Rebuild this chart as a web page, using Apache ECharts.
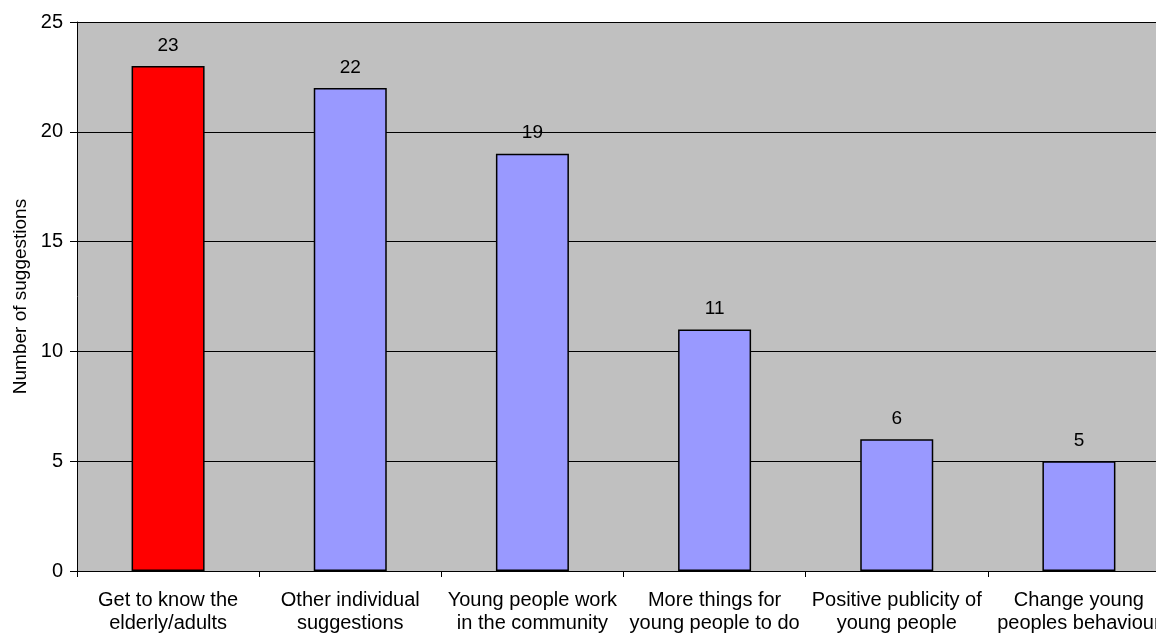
<!DOCTYPE html>
<html>
<head>
<meta charset="utf-8">
<script src="https://cdn.jsdelivr.net/npm/echarts@6/dist/echarts.min.js"></script>
<style>
  html, body { margin: 0; padding: 0; background: #fff; }
  #main { width: 1156px; height: 634px; }
</style>
</head>
<body>
<div id="main"></div>
<script>
// 分类与数值
const categories = [
  'Get to know the\nelderly/adults',
  'Other individual\nsuggestions',
  'Young people work\nin the community',
  'More things for\nyoung people to do',
  'Positive publicity of\nyoung people',
  'Change young\npeoples behaviour'
];
const counts = [23, 22, 19, 11, 6, 5];
const barColors = ['#FF0000', '#9999FF', '#9999FF', '#9999FF', '#9999FF', '#9999FF'];

const chart = echarts.init(document.getElementById('main'));
const font = 'Liberation Sans, Arial, sans-serif';

const option = {
  animation: false,
  backgroundColor: '#ffffff',
  grid: {
    left: 77,
    top: 22,
    width: 1093,
    height: 549,
    outerBoundsMode: 'none',
    containLabel: false,
    show: true,
    backgroundColor: '#C0C0C0',
    borderWidth: 0
  },
  xAxis: {
    type: 'category',
    data: categories,
    axisLine: { show: true, lineStyle: { color: '#000', width: 1 } },
    axisTick: { show: true, length: 6, lineStyle: { color: '#000' } },
    axisLabel: {
      color: '#000',
      fontFamily: font,
      fontSize: 20,
      lineHeight: 23,
      margin: 18,
      interval: 0
    },
    splitLine: { show: false }
  },
  yAxis: {
    type: 'value',
    min: 0,
    max: 25,
    interval: 5,
    name: 'Number of suggestions',
    nameLocation: 'middle',
    nameGap: 46,
    nameTextStyle: { color: '#000', fontFamily: font, fontSize: 19 },
    axisLine: { show: true, lineStyle: { color: '#000', width: 1 } },
    axisTick: { show: true, length: 7, lineStyle: { color: '#000' } },
    axisLabel: { color: '#000', fontFamily: font, fontSize: 20, margin: 14 },
    splitLine: { show: true, lineStyle: { color: '#000', width: 1 } }
  },
  series: [{
    type: 'bar',
    barWidth: 73,
    data: counts.map((v, i) => ({
      value: v,
      itemStyle: { color: barColors[i], borderColor: '#000', borderWidth: 1.5 }
    })),
    label: {
      show: true,
      position: 'top',
      distance: 11,
      color: '#000',
      fontFamily: font,
      fontSize: 19
    }
  }]
};
chart.setOption(option);
</script>
</body>
</html>
